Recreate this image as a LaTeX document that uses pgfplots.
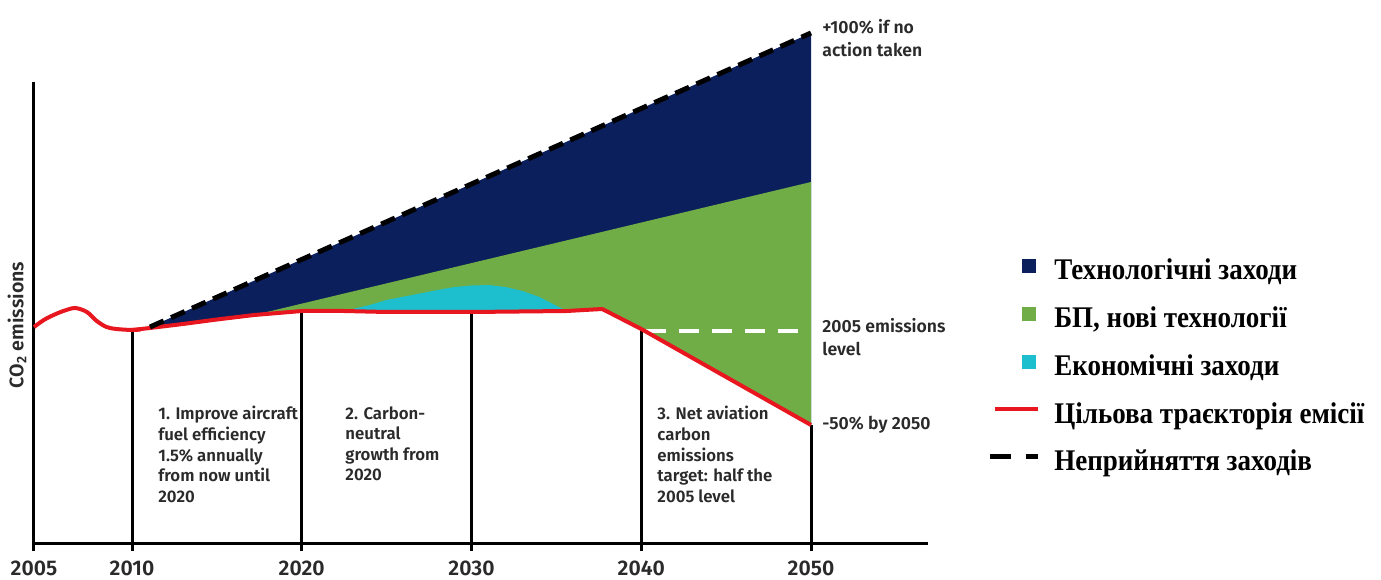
\documentclass[border=0pt]{standalone}
\usepackage{pgfplots}
\pgfplotsset{compat=1.18}
\usepackage{fontspec}
\setmainfont{Liberation Serif}
\IfFontExistsTF{Fira Sans SemiBold}{\newfontfamily\chartfont{Fira Sans SemiBold}}{\newfontfamily\chartfont{Fira Sans}[FakeBold=1.2]}
\newfontfamily\legfont{Liberation Serif}[FakeStretch=0.9]
\definecolor{navy}{HTML}{0B1F5C}
\definecolor{grn}{HTML}{70AD47}
\definecolor{cyn}{HTML}{1DBFCE}
\definecolor{redl}{HTML}{E8161E}
\definecolor{txt}{HTML}{2A2A2A}
\pgfplotsset{
  sqleg/.style={legend image code/.code={\path[draw=none,fill=none] (0pt,-4pt) rectangle (24pt,12pt); \fill[##1] (16pt,-1.5pt) rectangle (23pt,5.5pt);}},
  redleg/.style={legend image code/.code={\path[draw=none,fill=none] (0pt,-4pt) rectangle (24pt,12pt); \draw[##1] (2.5pt,2.75pt) -- (24pt,2.75pt);}},
  dashleg/.style={legend image code/.code={\path[draw=none,fill=none] (0pt,-4pt) rectangle (24pt,12pt); \draw[##1,solid] (0pt,2.75pt) -- (10.5pt,2.75pt); \draw[##1,solid] (18pt,2.75pt) -- (24pt,2.75pt);}},
}
\begin{document}
\begin{tikzpicture}
\useasboundingbox (-17pt,-18pt) rectangle (673.5pt,271.5pt);
\begin{axis}[
  x=8.4875pt, y=0.5pt,
  x coord trafo/.code={\pgfmathparse{(#1<2010)?(2010-(2010-#1)*1.1547):(#1)}},
  xmin=2005, xmax=2056.9, ymin=0, ymax=543,
  clip=false,
  axis x line=bottom, axis y line=none,
  x axis line style={-, line width=1.5pt},
  xtick={2005,2010,2020,2030,2040,2050},
  xticklabels={2005,2010,2020,2030,2040,2050},
  tick align=outside, major tick length=4pt,
  xtick style={line width=1.5pt, black},
  xticklabel style={font=\chartfont\fontsize{10.6}{12}\selectfont, text=txt, inner sep=0pt, text depth=0pt, yshift=-4.6pt},
  ytick=\empty,
  legend cell align=left,
  legend style={at={(1.0658,0.5469)}, anchor=north west, draw=none, fill=none,
    font=\legfont\bfseries\fontsize{15}{17}\selectfont, row sep=6pt, inner sep=0pt,
    nodes={inner sep=0pt},
    /tikz/every odd column/.append style={column sep=7pt}},
]
% axis and vertical guide lines
\addplot[forget plot, black, line width=1.5pt] coordinates {(2005,0) (2005,461)};
\addplot[forget plot, black, line width=1.5pt] coordinates {(2010,0) (2010,213)};
\addplot[forget plot, black, line width=1.5pt] coordinates {(2020,0) (2020,232)};
\addplot[forget plot, black, line width=1.5pt] coordinates {(2030,0) (2030,231)};
\addplot[forget plot, black, line width=1.5pt] coordinates {(2040,0) (2040,214)};
\addplot[forget plot, black, line width=1.5pt] coordinates {(2050,0) (2050,118)};
% technological measures (navy)
\addplot[fill=navy, draw=none, sqleg] coordinates {
 (2011.06,216) (2050,510) (2050,118) (2045,166) (2040,214) (2037.7,234) (2035.6,232)
 (2030,231) (2025,231) (2022.5,232) (2020,232) (2017.2,228) (2015,223.5) (2013,219) (2011.06,216)} -- cycle;
\addlegendentry{\rule[-5pt]{0pt}{13pt}Технологічні заходи}
% alternative fuels, new technologies (green)
\addplot[fill=grn, draw=none, sqleg] coordinates {
 (2017.2,228) (2050,361) (2050,118) (2045,166) (2040,214) (2037.7,234) (2035.6,232)
 (2030,231) (2025,231) (2022.5,232) (2020,232) (2017.2,228)} -- cycle;
\addlegendentry{\rule[-7.25pt]{0pt}{15.25pt}БП, нові технології}
% economic measures (cyan)
\addplot[fill=cyn, draw=none, sqleg] coordinates {
 (2022.5,232) (2024,238) (2025,243) (2026.5,248) (2028,253) (2029,256) (2030,257.5) (2031,258)
 (2032,256) (2033,252) (2034,246) (2034.8,239) (2035.6,232)
 (2030,231) (2025,231) (2022.5,232)} -- cycle;
\addlegendentry{\rule[-4pt]{0pt}{12pt}Економічні заходи}
% 2005 emissions level
\addplot[forget plot, white, line width=2pt, dash pattern=on 10pt off 6.5pt] coordinates {(2040.25,212) (2049.4,212)};
% target trajectory (red)
\addplot[redl, line width=2pt, line join=round, redleg] coordinates {
 (2010,213) (2011.06,215) (2013,219) (2015,223.5) (2017.2,228) (2020,232) (2022.5,232)
 (2025,231) (2030,231) (2035.6,232) (2037.7,234) (2040,214) (2045,166) (2050,118)};
\addlegendentry{\rule[-4pt]{0pt}{12pt}Цільова траєкторія емісії}
% no action (dashed black)
\addplot[black, line width=2.5pt, dash pattern=on 7.5pt off 4pt, dashleg] coordinates {(2011.06,216) (2050,510)};
\addlegendentry{\rule[-4pt]{0pt}{12pt}Неприйняття заходів}
% red bump 2005-2010
\addplot[forget plot, redl, line width=2pt, smooth, tension=0.5] coordinates {
 (2005,216) (2005.5,223) (2006,228) (2006.5,232) (2007.1,235) (2007.7,231) (2008.2,222)
 (2008.7,216) (2009.2,214) (2010,213) (2010.5,213.5)};
% annotations
\node[anchor=north west, align=left, font=\chartfont\fontsize{8.4}{10.3}\selectfont, text=txt, inner sep=0pt]
  at (axis cs:2011.53,137) {1. Improve aircraft\\fuel efficiency\\1.5\% annually\\from now until\\2020};
\node[anchor=north west, align=left, font=\chartfont\fontsize{8.4}{10.3}\selectfont, text=txt, inner sep=0pt]
  at (axis cs:2022.55,137) {2. Carbon-\\neutral\\growth from\\2020};
\node[anchor=north west, align=left, font=\chartfont\fontsize{8.4}{10.3}\selectfont, text=txt, inner sep=0pt]
  at (axis cs:2040.93,137) {3. Net aviation\\carbon\\emissions\\target: half the\\2005 level};
\node[anchor=west, font=\chartfont\fontsize{8.8}{10}\selectfont, text=txt, inner sep=0pt] at (axis cs:2050.65,516) {+100\% if no};
\node[anchor=west, font=\chartfont\fontsize{8.8}{10}\selectfont, text=txt, inner sep=0pt] at (axis cs:2050.65,493) {action taken};
\node[anchor=west, font=\chartfont\fontsize{8.8}{10}\selectfont, text=txt, inner sep=0pt] at (axis cs:2050.65,217) {2005 emissions};
\node[anchor=west, font=\chartfont\fontsize{8.8}{10}\selectfont, text=txt, inner sep=0pt] at (axis cs:2050.65,194) {level};
\node[anchor=west, font=\chartfont\fontsize{8.8}{10}\selectfont, text=txt, inner sep=0pt] at (axis cs:2050.65,118) {-50\% by 2050};
\node[rotate=90, yshift=8.5pt, font=\chartfont\fontsize{9.8}{11}\selectfont, text=txt, inner sep=0pt] at (axis cs:2005,218) {CO\textsubscript{2} emissions};
\end{axis}
\end{tikzpicture}
\end{document}
